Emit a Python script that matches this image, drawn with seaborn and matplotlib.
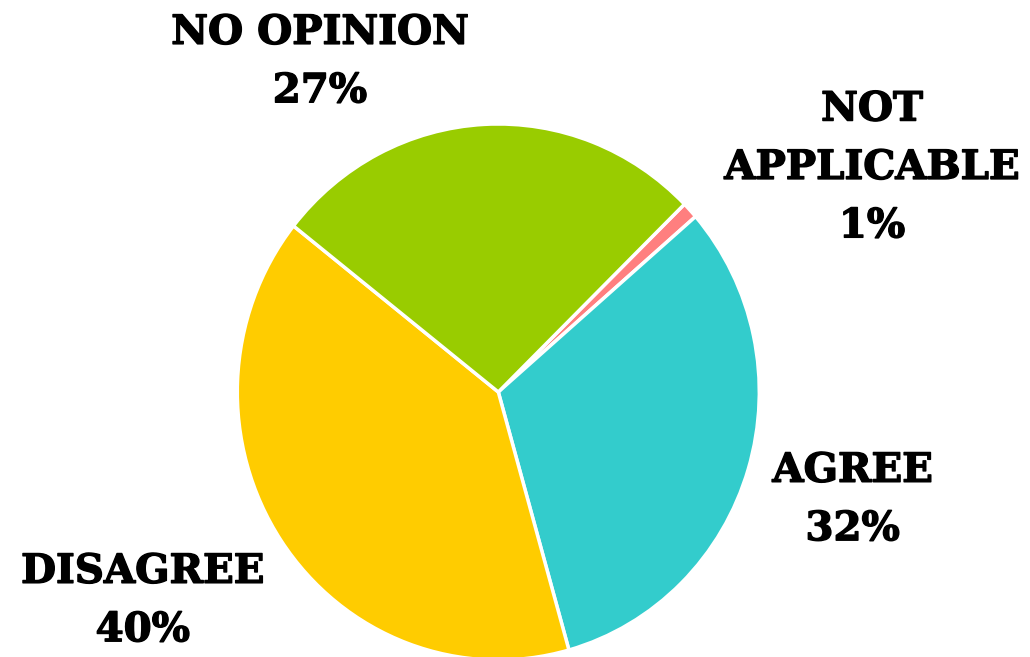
import matplotlib
matplotlib.use("Agg")
import matplotlib.pyplot as plt
import matplotlib.patheffects as pe
import seaborn as sns

# Survey responses (clockwise from the top-right)
categories = ["NOT\nAPPLICABLE", "AGREE", "DISAGREE", "NO OPINION"]
shares = [1, 32, 40, 27]
colors = ["#FF7F7F", "#33CCCC", "#FFCC00", "#99CC00"]

# label centres, in units of the pie radius
label_x = [1.432, 1.358, -1.362, -0.683]
label_y = [0.836, -0.403, -0.780, 1.231]

sns.set_theme(style="white")
plt.rcParams['font.family'] = ['DejaVu Serif']

fig = plt.figure(figsize=(10.30, 6.57), dpi=100)
ax = fig.add_axes([0, 0, 1, 1])

ax.pie(
    shares,
    colors=colors,
    startangle=44.5,
    counterclock=False,
    radius=1.0,
    wedgeprops={'edgecolor': 'white', 'linewidth': 2.5},
)

for cat, val, x, y in zip(categories, shares, label_x, label_y):
    ax.text(x, y, f"{cat}\n{val}%", ha='center', va='center',
            fontsize=29, fontweight='bold', color='black', linespacing=1.68,
            path_effects=[pe.withStroke(linewidth=1.0, foreground='black')])

# pie centre at (498, 392) px; the original is a bit taller than wide
# (261 px across, 268 px up/down)
ax.set_xlim(-498.3 / 261, (1030 - 498.3) / 261)
ax.set_ylim(-(657 - 392) / 268, 392 / 268)
ax.set_aspect('auto')
ax.axis('off')

fig.savefig("out.png", dpi=100)
plt.close(fig)
